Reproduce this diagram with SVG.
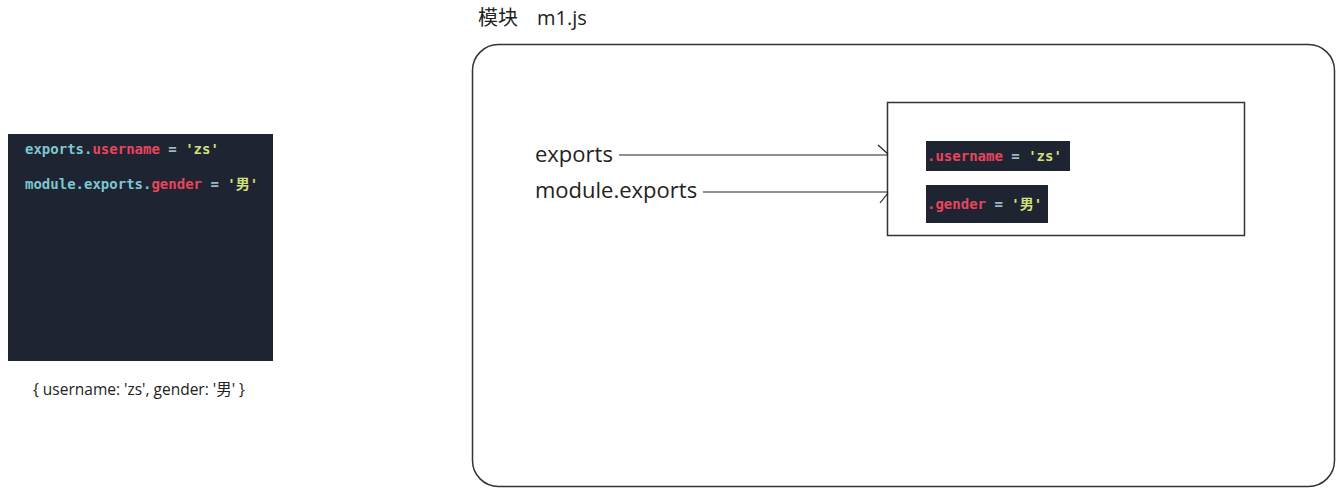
<svg xmlns="http://www.w3.org/2000/svg" width="1344" height="494" viewBox="0 0 1344 494">
<style>
.code{font-family:"DejaVu Sans Mono","Liberation Mono","Noto Sans CJK SC",monospace;font-size:14px;font-weight:bold}
.code2{font-family:"DejaVu Sans Mono","Liberation Mono","Noto Sans CJK SC",monospace;font-size:14px;font-weight:bold}
.k{fill:#7cc7cf}
.p{fill:#e8455c}
.s{fill:#d2e07a}
.o{fill:#9fb8c0}
.sans{font-family:"Open Sans","Noto Sans CJK SC",sans-serif;fill:#222}
.frame{fill:none;stroke:#333;stroke-width:1.5}
.conn{stroke:#222;stroke-width:1.2;fill:none}
</style>
<rect width="1344" height="494" fill="#fff"/>
<g id="code-panel">
<rect x="8" y="134" width="265" height="227" fill="#1f2433"/>
<text class="code" x="25" y="154"><tspan class="k">exports.</tspan><tspan class="p">username</tspan><tspan class="o"> = </tspan><tspan class="s">'zs'</tspan></text>
<text class="code" x="25" y="189"><tspan class="k">module.exports.</tspan><tspan class="p">gender</tspan><tspan class="o"> = </tspan><tspan class="s">'男'</tspan></text>
</g>
<g id="result">
<text class="sans" x="33" y="395" font-size="15.5">{ username: 'zs', gender: '男' }</text>
</g>
<g id="title">
<text class="sans" x="478" y="25" font-size="20">模块</text>
<text class="sans" x="537" y="25" font-size="20">m1.js</text>
</g>
<g id="module-m1">
<rect class="frame" x="472.5" y="44.5" width="862" height="442" rx="26" ry="26"/>
</g>
<g id="label-exports">
<text class="sans" x="535" y="162" font-size="22">exports</text>
</g>
<g id="label-module-exports">
<text class="sans" x="535" y="198" font-size="22">module.exports</text>
</g>
<g id="object">
<rect class="frame" x="887.5" y="102.5" width="357" height="133"/>
<rect x="926" y="141" width="144" height="30" fill="#1f2433"/>
<text class="code2" x="927" y="161"><tspan class="p">.username</tspan><tspan class="o"> = </tspan><tspan class="s">'zs'</tspan></text>
<rect x="926" y="185" width="122" height="38" fill="#1f2433"/>
<text class="code2" x="927" y="209"><tspan class="p">.gender</tspan><tspan class="o"> = </tspan><tspan class="s">'男'</tspan></text>
</g>
<g id="connectors">
<path class="conn" d="M619 155 H888 M878 145 L888 154"/>
<path class="conn" d="M703 192 H888 M880 203 L888 193"/>
</g>
</svg>
